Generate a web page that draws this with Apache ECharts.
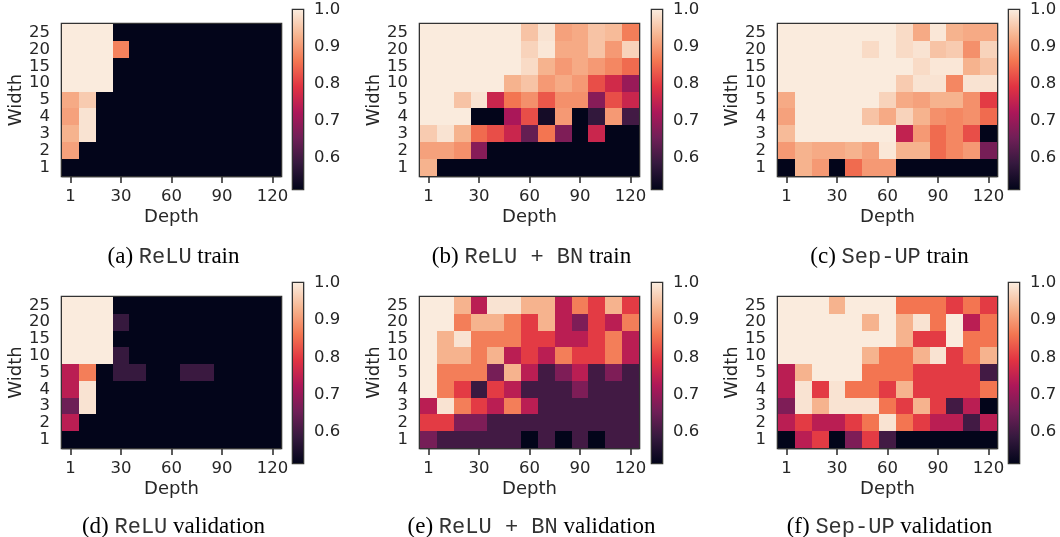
<!DOCTYPE html>
<html>
<head>
<meta charset="utf-8">
<script src="https://cdn.jsdelivr.net/npm/echarts@6/dist/echarts.min.js"></script>
<style>
html, body { margin: 0; background: #fff; }
#chart { width: 1060px; height: 537px; }
</style>
</head>
<body>
<div id="chart"></div>
<script>
var depths = ['1', '10', '20', '30', '40', '50', '60', '70', '80', '90', '100', '110', '120'];
var widths = ['1', '2', '3', '4', '5', '10', '15', '20', '25'];
var cbTicks = [0.6, 0.7, 0.8, 0.9, 1.0];
var cbMin = 0.515, cbMax = 1.0;
var D = 0.515; // cells at the bottom of the colour scale

// rows go from width 25 (top) down to width 1 (bottom)
var reluTrain = [
  [1, 1, 1, D, D, D, D, D, D, D, D, D, D],
  [1, 1, 1, 0.875, D, D, D, D, D, D, D, D, D],
  [1, 1, 1, D, D, D, D, D, D, D, D, D, D],
  [1, 1, 1, D, D, D, D, D, D, D, D, D, D],
  [0.92, 0.96, D, D, D, D, D, D, D, D, D, D, D],
  [0.91, 0.99, D, D, D, D, D, D, D, D, D, D, D],
  [0.93, 0.99, D, D, D, D, D, D, D, D, D, D, D],
  [0.91, D, D, D, D, D, D, D, D, D, D, D, D],
  [D, D, D, D, D, D, D, D, D, D, D, D, D]
];
var reluBnTrain = [
  [1, 1, 1, 1, 1, 1, 0.95, 0.99, 0.91, 0.92, 0.95, 0.94, 0.87],
  [1, 1, 1, 1, 1, 1, 0.97, 0.995, 0.92, 0.92, 0.95, 0.9, 0.97],
  [1, 1, 1, 1, 1, 1, 0.98, 0.93, 0.9, 0.92, 0.9, 0.88, 0.85],
  [1, 1, 1, 1, 1, 0.93, 0.95, 0.9, 0.92, 0.9, 0.82, 0.77, 0.7],
  [1, 1, 0.95, 0.99, 0.76, 0.86, 0.89, 0.83, 0.89, 0.89, 0.68, 0.82, 0.76],
  [1, 1, 1, D, D, 0.72, 0.82, 0.54, 0.9, D, 0.58, 0.9, 0.6],
  [0.96, 0.99, 0.93, 0.85, 0.82, 0.76, 0.64, 0.86, 0.67, D, 0.76, D, D],
  [0.91, 0.91, 0.89, 0.68, D, D, D, D, D, D, D, D, D],
  [0.93, D, D, D, D, D, D, D, D, D, D, D, D]
];
var sepUpTrain = [
  [1, 1, 1, 1, 1, 1, 1, 0.98, 0.92, 0.995, 0.93, 0.92, 0.92],
  [1, 1, 1, 1, 1, 0.98, 1, 0.98, 0.99, 0.95, 0.96, 0.89, 0.97],
  [1, 1, 1, 1, 1, 1, 1, 1, 0.98, 0.995, 0.995, 0.93, 0.95],
  [1, 1, 1, 1, 1, 1, 1, 0.96, 0.99, 0.99, 0.88, 0.99, 0.99],
  [0.92, 1, 1, 1, 1, 1, 0.97, 0.92, 0.91, 0.93, 0.93, 0.89, 0.8],
  [0.91, 1, 1, 1, 1, 0.95, 0.92, 0.97, 0.93, 0.89, 0.88, 0.89, 0.85],
  [0.94, 1, 1, 1, 1, 1, 1, 0.75, 0.9, 0.85, 0.88, 0.82, D],
  [0.9, 0.93, 0.92, 0.92, 0.93, 0.91, 0.995, 0.93, 0.93, 0.85, 0.88, 0.9, 0.66],
  [D, 0.93, 0.9, D, 0.85, 0.9, 0.9, D, D, D, D, D, D]
];
var reluVal = [
  [1, 1, 1, D, D, D, D, D, D, D, D, D, D],
  [1, 1, 1, 0.585, D, D, D, D, D, D, D, D, D],
  [1, 1, 1, D, D, D, D, D, D, D, D, D, D],
  [1, 1, 1, 0.585, D, D, D, D, D, D, D, D, D],
  [0.74, 0.87, D, 0.585, 0.585, D, D, 0.59, 0.59, D, D, D, D],
  [0.74, 0.99, D, D, D, D, D, D, D, D, D, D, D],
  [0.65, 0.99, D, D, D, D, D, D, D, D, D, D, D],
  [0.74, D, D, D, D, D, D, D, D, D, D, D, D],
  [D, D, D, D, D, D, D, D, D, D, D, D, D]
];
var reluBnVal = [
  [1, 1, 0.93, 0.74, 0.99, 0.99, 0.93, 0.93, 0.74, 0.87, 0.8, 0.93, 0.8],
  [1, 1, 0.87, 0.93, 0.93, 0.87, 0.8, 0.93, 0.74, 0.67, 0.8, 0.74, 0.87],
  [1, 0.93, 0.99, 0.87, 0.87, 0.87, 0.8, 0.8, 0.74, 0.74, 0.8, 0.87, 0.74],
  [1, 0.93, 0.93, 0.87, 0.93, 0.74, 0.8, 0.74, 0.87, 0.8, 0.8, 0.87, 0.74],
  [1, 0.87, 0.87, 0.87, 0.66, 0.93, 0.74, 0.6, 0.67, 0.74, 0.6, 0.67, 0.6],
  [1, 0.87, 0.8, 0.59, 0.8, 0.74, 0.6, 0.6, 0.6, 0.67, 0.6, 0.6, 0.6],
  [0.74, 0.99, 0.87, 0.8, 0.74, 0.87, 0.74, 0.6, 0.6, 0.6, 0.6, 0.6, 0.6],
  [0.8, 0.8, 0.67, 0.67, 0.6, 0.6, 0.6, 0.6, 0.6, 0.6, 0.6, 0.6, 0.6],
  [0.66, 0.6, 0.6, 0.6, 0.6, 0.6, D, 0.6, D, 0.6, D, 0.6, 0.6]
];
var sepUpVal = [
  [1, 1, 1, 0.93, 1, 1, 1, 0.86, 0.86, 0.86, 0.8, 0.86, 0.8],
  [1, 1, 1, 1, 1, 0.93, 1, 0.93, 0.99, 0.86, 1, 0.74, 0.86],
  [1, 1, 1, 1, 1, 1, 1, 0.93, 0.8, 0.8, 1, 0.86, 0.86],
  [1, 1, 1, 1, 1, 0.93, 0.86, 0.86, 0.93, 0.99, 0.8, 0.86, 0.93],
  [0.74, 0.93, 1, 1, 1, 0.86, 0.86, 0.86, 0.8, 0.8, 0.8, 0.8, 0.6],
  [0.74, 0.99, 0.8, 0.99, 0.86, 0.86, 0.8, 0.93, 0.8, 0.8, 0.8, 0.8, 0.86],
  [0.67, 0.99, 0.93, 0.99, 0.99, 0.99, 0.86, 0.8, 0.93, 0.8, 0.6, 0.74, D],
  [0.74, 0.8, 0.74, 0.74, 0.8, 0.86, 0.99, 0.86, 0.8, 0.74, 0.74, 0.6, 0.74],
  [D, 0.74, 0.8, D, 0.67, 0.8, 0.6, D, D, D, D, D, D]
];

// seaborn "rocket"
var rocket = ['#03051a', '#35193e', '#701f57', '#ad1759', '#e13342', '#f37651', '#f6b48f', '#faebdd'];

var panels = [
  { rows: reluTrain, left: 62, top: 24, h: 152, cbLeft: 293, cbTop: 10, cbH: 179, cap: ['(a) ', 'ReLU', ' train'], capY: 257 },
  { rows: reluBnTrain, left: 420, top: 24, h: 152, cbLeft: 652, cbTop: 10, cbH: 179, cap: ['(b) ', 'ReLU + BN', ' train'], capY: 257 },
  { rows: sepUpTrain, left: 778, top: 24, h: 152, cbLeft: 1009, cbTop: 10, cbH: 179, cap: ['(c) ', 'Sep-UP', ' train'], capY: 257 },
  { rows: reluVal, left: 62, top: 297, h: 151, cbLeft: 293, cbTop: 283, cbH: 180, cap: ['(d) ', 'ReLU', ' validation'], capY: 527 },
  { rows: reluBnVal, left: 420, top: 297, h: 151, cbLeft: 652, cbTop: 283, cbH: 180, cap: ['(e) ', 'ReLU + BN', ' validation'], capY: 527 },
  { rows: sepUpVal, left: 778, top: 297, h: 151, cbLeft: 1009, cbTop: 283, cbH: 180, cap: ['(f) ', 'Sep-UP', ' validation'], capY: 527 }
];

var plotW = 219;
var ink = '#262626';
var frame = '#333';
var font = 'DejaVu Sans';

function toCells(rows) {
  var out = [];
  rows.forEach(function (row, r) {
    row.forEach(function (v, c) {
      out.push([c, rows.length - 1 - r, v]);
    });
  });
  return out;
}

// one cell; edges rounded so neighbours meet without seams
function cell(params, api) {
  var c = api.coord([api.value(0), api.value(1)]);
  var s = api.size([1, 1]);
  var x0 = Math.round(c[0] - s[0] / 2), x1 = Math.round(c[0] + s[0] / 2);
  var y0 = Math.round(c[1] - s[1] / 2), y1 = Math.round(c[1] + s[1] / 2);
  return {
    type: 'rect',
    shape: { x: x0, y: y0, width: x1 - x0, height: y1 - y0 },
    style: { fill: api.visual('color') }
  };
}

function colorbar(params, api) {
  var p0 = api.coord([0, cbMax]);
  var p1 = api.coord([1, cbMin]);
  var stops = rocket.map(function (c, i) {
    return { offset: 1 - i / (rocket.length - 1), color: c };
  });
  return {
    type: 'rect',
    shape: { x: p0[0], y: p0[1], width: p1[0] - p0[0], height: p1[1] - p0[1] },
    style: { fill: new echarts.graphic.LinearGradient(0, 0, 0, 1, stops) }
  };
}

var grid = [], xAxis = [], yAxis = [], series = [], graphic = [], heatIdx = [];

panels.forEach(function (p, i) {
  grid.push({ left: p.left, top: p.top, width: plotW, height: p.h, show: true, borderColor: frame, borderWidth: 2.6 });
  grid.push({ left: p.cbLeft, top: p.cbTop, width: 10, height: p.cbH, show: true, borderColor: frame, borderWidth: 2.6 });

  xAxis.push({
    gridIndex: 2 * i, type: 'category', data: depths,
    axisLine: { show: true, lineStyle: { color: frame, width: 1.3 } },
    axisTick: { show: true, alignWithLabel: true, interval: 2, length: 7, lineStyle: { color: frame, width: 1.6 } },
    axisLabel: { interval: 2, margin: 12, fontSize: 16.5, color: ink, fontFamily: font },
    splitLine: { show: false },
    name: 'Depth', nameLocation: 'middle', nameGap: 32,
    nameTextStyle: { fontSize: 18, color: ink, fontFamily: font }
  });
  yAxis.push({
    gridIndex: 2 * i, type: 'category', data: widths,
    axisLine: { show: false },
    axisTick: { show: false },
    axisLabel: { interval: 0, margin: 12, fontSize: 16.5, color: ink, fontFamily: font },
    splitLine: { show: false },
    name: 'Width', nameLocation: 'middle', nameRotate: 90, nameGap: 36,
    nameTextStyle: { fontSize: 18, color: ink, fontFamily: font }
  });
  xAxis.push({ gridIndex: 2 * i + 1, type: 'value', min: 0, max: 1, show: false });
  yAxis.push({
    gridIndex: 2 * i + 1, type: 'value', min: cbMin, max: cbMax, position: 'right',
    axisLine: { show: false },
    splitLine: { show: false },
    axisTick: { show: true, customValues: cbTicks, length: 6, lineStyle: { color: frame, width: 1.5 } },
    axisLabel: {
      customValues: cbTicks, margin: 11, fontSize: 16.5, color: ink, fontFamily: font,
      formatter: function (v) { return v.toFixed(1); }
    }
  });

  heatIdx.push(series.length);
  series.push({
    type: 'custom', xAxisIndex: 2 * i, yAxisIndex: 2 * i,
    data: toCells(p.rows), renderItem: cell, silent: true,
    encode: { x: 0, y: 1 }
  });
  series.push({
    type: 'custom', xAxisIndex: 2 * i + 1, yAxisIndex: 2 * i + 1,
    data: [[0, cbMax]], renderItem: colorbar, silent: true, clip: false
  });

  graphic.push({
    type: 'text', x: p.left + plotW / 2 + 2, y: p.capY,
    style: {
      text: '{s|' + p.cap[0] + '}{m|' + p.cap[1] + '}{s|' + p.cap[2] + '}',
      align: 'center', verticalAlign: 'middle',
      rich: {
        s: { fontFamily: 'Liberation Serif', fontSize: 23, fill: '#000', color: '#000' },
        m: { fontFamily: 'Liberation Mono', fontSize: 22, fill: '#333', color: '#333' }
      }
    }
  });
});

var chart = echarts.init(document.getElementById('chart'));
var option = {
  animation: false,
  grid: grid,
  xAxis: xAxis,
  yAxis: yAxis,
  visualMap: {
    show: false, seriesIndex: heatIdx, dimension: 2, min: cbMin, max: cbMax,
    inRange: { color: rocket }
  },
  series: series,
  graphic: graphic
};
chart.setOption(option);
</script>
</body>
</html>
